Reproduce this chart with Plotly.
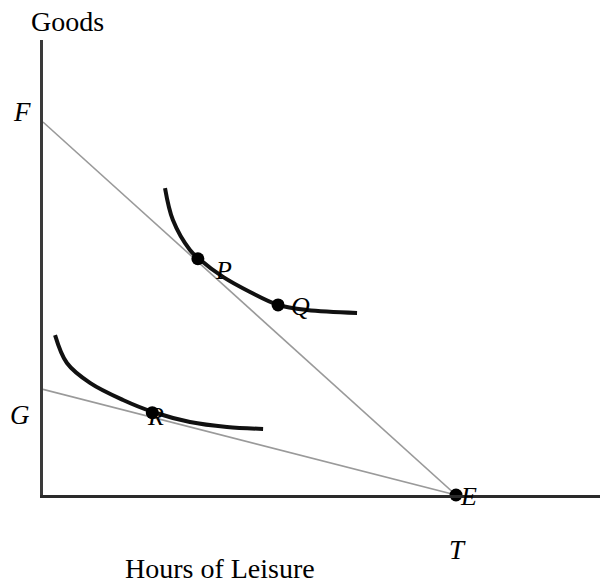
import plotly.graph_objects as go

# Budget constraints (hours of leisure, goods)
T_hours = 24
F_goods = 240
G_goods = 68

budget_high_x = [0, T_hours]
budget_high_y = [F_goods, 0]
budget_low_x = [0, T_hours]
budget_low_y = [G_goods, 0]

# Indifference curves
ic_high_x = [7.09, 7.55, 8.54, 9.01, 10.46, 12.03, 13.66, 15.34, 18.25]
ic_high_y = [197.5, 176.9, 157.6, 152.5, 140.3, 130.6, 122.3, 119.0, 117.1]
ic_low_x = [0.70, 1.39, 2.73, 4.65, 6.39, 8.54, 10.69, 12.79]
ic_low_y = [102.9, 84.9, 72.1, 61.1, 53.4, 47.0, 43.8, 42.5]

# Labelled points
pt_names = ["P", "Q", "R", "E"]
pt_x = [9.0, 13.66, 6.35, 24.0]
pt_y = [152.0, 122.3, 53.0, 0.0]
pt_xshift = [26, 22, 3, 12]
pt_yshift = [-12, -2, -4, -1]

font_family = "Liberation Serif"

fig = go.Figure()
fig.add_trace(go.Scatter(x=budget_high_x, y=budget_high_y, mode="lines",
                         line=dict(color="#9a9a9a", width=1.6), hoverinfo="skip"))
fig.add_trace(go.Scatter(x=budget_low_x, y=budget_low_y, mode="lines",
                         line=dict(color="#9a9a9a", width=1.6), hoverinfo="skip"))
fig.add_trace(go.Scatter(x=ic_high_x, y=ic_high_y, mode="lines",
                         line=dict(color="#111", width=4, shape="spline"), hoverinfo="skip"))
fig.add_trace(go.Scatter(x=ic_low_x, y=ic_low_y, mode="lines",
                         line=dict(color="#111", width=4, shape="spline"), hoverinfo="skip"))
fig.add_trace(go.Scatter(x=pt_x, y=pt_y, mode="markers",
                         marker=dict(color="#000", size=13), hoverinfo="skip", cliponaxis=False))

annotations = []
for n, x, y, xs, ys in zip(pt_names, pt_x, pt_y, pt_xshift, pt_yshift):
    annotations.append(dict(x=x, y=y, xref="x", yref="y", text="<i>" + n + "</i>", showarrow=False,
                            xshift=xs, yshift=ys,
                            font=dict(family=font_family, size=26, color="#000")))
# axis intercept labels
annotations.append(dict(x=0, y=F_goods, xref="x", yref="y", text="<i>F</i>", showarrow=False,
                        xshift=-21, yshift=10, font=dict(family=font_family, size=27, color="#000")))
annotations.append(dict(x=0, y=G_goods, xref="x", yref="y", text="<i>G</i>", showarrow=False,
                        xshift=-23, yshift=-26, font=dict(family=font_family, size=27, color="#000")))
annotations.append(dict(x=T_hours, y=0, xref="x", yref="y", text="<i>T</i>", showarrow=False,
                        xshift=1, yshift=-55, font=dict(family=font_family, size=27, color="#000")))
# axis titles (paper coords relative to plot area: x 43..600, y 40..495)
annotations.append(dict(x=(67 - 43) / 557, y=(495 - 22) / 455, xref="paper", yref="paper", text="Goods",
                        showarrow=False, xanchor="center", yanchor="middle",
                        font=dict(family=font_family, size=28, color="#000")))
annotations.append(dict(x=(220 - 43) / 557, y=(495 - 568) / 455, xref="paper", yref="paper",
                        text="Hours of Leisure", showarrow=False, xanchor="center", yanchor="middle",
                        font=dict(family=font_family, size=28, color="#000")))

x_max = (600 - 43) / (413 / T_hours)
y_max = (495 - 40) / (373 / F_goods)

fig.update_layout(
    width=600, height=584,
    margin=dict(l=43, r=0, t=40, b=89, autoexpand=False),
    paper_bgcolor="white", plot_bgcolor="white",
    showlegend=False,
    annotations=annotations,
    xaxis=dict(range=[0, x_max], showgrid=False, zeroline=False, showticklabels=False,
               ticks="", showline=True, linecolor="#2a2a2a", linewidth=3, fixedrange=True),
    yaxis=dict(range=[0, y_max], showgrid=False, zeroline=False, showticklabels=False,
               ticks="", showline=True, linecolor="#3a3a3a", linewidth=3, fixedrange=True),
)

fig.write_html("out.html", config={"displayModeBar": False},
               post_script="document.body.style.margin='0';document.body.style.overflow='hidden';")
